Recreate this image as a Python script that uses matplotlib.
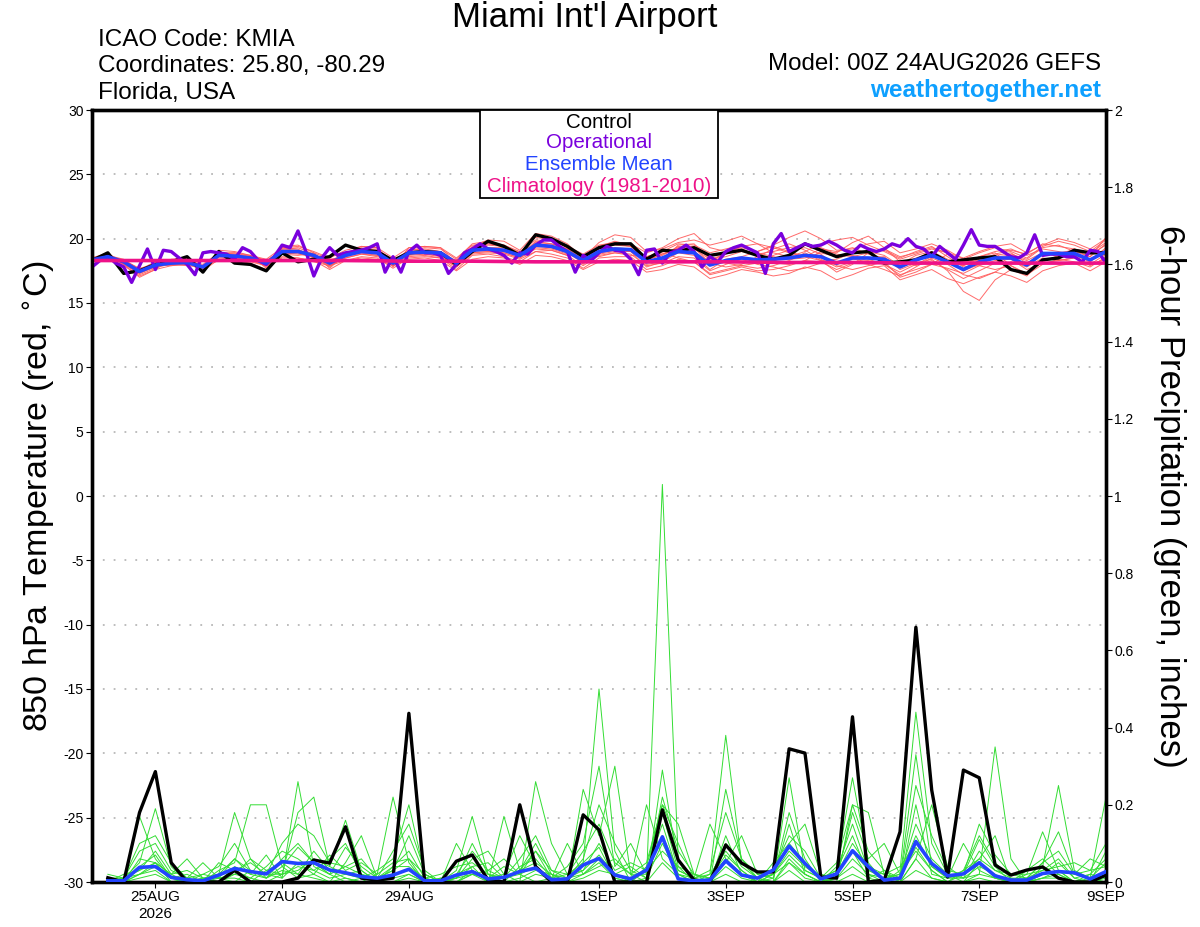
import numpy as np
import matplotlib
matplotlib.use("Agg")
import matplotlib.pyplot as plt
from matplotlib.patches import Rectangle
from matplotlib.ticker import FuncFormatter

plt.rcParams["font.family"] = ["Liberation Sans", "DejaVu Sans"]
plt.rcParams["axes.unicode_minus"] = False

# forecast hours from 00Z 24AUG2026, tick positions / labels
tick_hours = [24, 72, 120, 192, 240, 288, 336, 384]
tick_labels = ["25AUG\n2026", "27AUG", "29AUG", "1SEP", "3SEP", "5SEP", "7SEP", "9SEP"]

# 850 hPa temperature, 6-hourly (0..384 h)
ctrl_temp = [
    18.3, 18.9, 17.3, 17.5, 18.0, 18.2, 18.6, 17.4, 19.0, 18.1, 18.0, 17.5, 18.9,
    18.2, 18.4, 18.6, 19.5, 19.1, 19.0, 18.3, 18.9, 19.0, 18.9, 18.0, 19.0, 19.8,
    19.4, 18.7, 20.3, 20.0, 19.4, 18.6, 19.3, 19.6, 19.6, 18.4, 19.1, 19.0, 19.3,
    18.7, 18.9, 19.1, 18.7, 18.4, 18.7, 19.6, 19.1, 18.6, 18.9, 19.0, 18.1, 18.2,
    18.35, 18.9, 18.2, 18.35, 18.5, 18.6, 17.6, 17.3, 18.35, 18.5, 19.1, 18.9, 18.9,
]
mean_temp = [
    18.35, 18.6, 18.2, 17.45, 17.95, 18.1, 18.15, 17.8, 18.7, 18.65, 18.5, 18.1, 19.0,
    19.0, 18.7, 18.1, 18.7, 19.0, 18.9, 18.1, 18.9, 18.95, 18.9, 18.1, 19.1, 19.2,
    19.1, 18.7, 19.5, 19.4, 19.0, 18.3, 19.0, 19.2, 19.15, 18.2, 18.5, 19.0, 18.9,
    17.95, 18.3, 18.5, 18.35, 18.4, 18.5, 18.7, 18.6, 18.1, 18.5, 18.5, 18.4, 17.8,
    18.35, 18.7, 18.2, 17.6, 18.2, 18.5, 18.5, 17.95, 18.85, 18.85, 18.85, 18.35, 19.0,
]
# operational run, 3-hourly (0..384 h)
op_temp = [
    17.8, 18.3, 18.6, 18.1, 17.8, 16.6, 17.9, 19.2, 17.6, 19.1, 19.0, 18.5, 18.0,
    17.2, 18.9, 19.0, 18.9, 18.8, 18.4, 19.3, 19.0, 18.3, 18.0, 18.6, 19.5, 19.3,
    20.6, 19.0, 17.1, 18.5, 19.3, 18.7, 18.9, 19.0, 19.1, 19.3, 19.6, 17.4, 18.6,
    17.4, 19.0, 19.5, 18.9, 18.9, 18.7, 17.3, 18.0, 18.9, 19.2, 19.6, 19.2, 19.0,
    18.7, 18.1, 18.9, 18.8, 19.5, 19.9, 19.9, 19.4, 19.0, 17.4, 18.7, 18.3, 18.9,
    19.4, 19.1, 19.0, 18.4, 17.2, 19.1, 19.2, 18.1, 18.9, 19.1, 19.5, 19.0, 17.8,
    18.6, 18.2, 19.0, 19.3, 19.5, 19.2, 18.9, 17.3, 19.6, 20.4, 19.0, 19.3, 19.6,
    19.4, 19.5, 19.8, 19.5, 19.1, 18.9, 19.5, 19.2, 19.0, 19.2, 19.6, 19.4, 20.0,
    19.4, 19.2, 18.6, 19.4, 18.9, 18.4, 19.5, 20.7, 19.5, 19.4, 19.4, 19.0, 18.6,
    18.5, 18.9, 20.3, 18.7, 18.8, 18.8, 18.6, 18.6, 18.2, 19.1, 19.0, 18.1,
]
# climatology, daily
clim_temp = [18.3, 18.3, 18.3, 18.3, 18.3, 18.25, 18.25, 18.2, 18.2, 18.2, 18.2,
             18.15, 18.15, 18.1, 18.1, 18.1, 18.1]

member_temp = [
    [18.4, 18.7, 18.0, 17.3, 17.8, 18.2, 18.3, 17.6, 18.9, 18.8, 18.4, 17.9, 19.3,
     19.2, 18.5, 17.8, 18.9, 19.3, 19.0, 17.9, 19.1, 19.3, 19.2, 18.4, 19.6, 19.8,
     19.5, 18.9, 20.1, 19.9, 19.3, 18.0, 19.4, 19.8, 19.5, 18.0, 18.2, 19.5, 19.6,
     18.4, 18.8, 19.2, 18.6, 18.1, 18.0, 18.3, 19.0, 18.9, 19.7, 20.2, 19.3, 18.2,
     17.9, 18.3, 17.6, 16.9, 17.5, 18.1, 18.8, 18.4, 19.3, 19.5, 19.0, 18.6, 19.6],
    [18.2, 18.5, 18.3, 17.6, 18.1, 17.9, 18.0, 17.9, 18.5, 18.4, 18.7, 18.3, 18.8,
     18.7, 18.9, 18.4, 18.5, 18.8, 18.6, 18.3, 18.6, 18.7, 18.5, 17.8, 18.8, 18.9,
     18.8, 18.4, 19.0, 19.1, 18.7, 18.6, 18.6, 18.9, 18.7, 18.6, 18.9, 18.5, 18.2,
     17.3, 17.6, 17.9, 18.1, 18.7, 19.1, 19.3, 18.8, 17.9, 17.6, 17.9, 18.2, 17.0,
     17.4, 18.0, 18.8, 18.0, 18.6, 18.9, 17.9, 17.2, 18.0, 18.4, 18.2, 17.8, 18.6],
    [18.5, 18.8, 18.1, 17.2, 17.7, 18.3, 18.4, 17.7, 18.8, 18.9, 18.6, 17.8, 19.2,
     19.3, 18.8, 17.9, 18.6, 19.2, 19.1, 18.0, 19.0, 19.1, 19.0, 18.2, 19.3, 19.6,
     19.4, 18.6, 19.8, 19.6, 19.2, 18.4, 19.3, 19.5, 19.4, 18.3, 18.4, 19.3, 19.4,
     18.6, 18.1, 17.9, 17.7, 17.9, 18.3, 18.9, 18.3, 17.4, 18.0, 18.9, 19.1, 18.5,
     19.0, 19.4, 18.6, 17.8, 17.9, 17.6, 17.9, 17.3, 18.2, 18.7, 19.2, 18.9, 19.7],
    [18.3, 18.4, 18.2, 17.5, 17.9, 18.0, 18.0, 17.9, 18.6, 18.5, 18.3, 18.2, 18.9,
     18.8, 18.6, 18.3, 18.8, 18.9, 18.7, 18.2, 18.8, 18.8, 18.6, 17.9, 18.9, 19.0,
     18.9, 18.5, 19.3, 19.2, 18.8, 18.5, 18.8, 19.0, 19.0, 18.4, 18.7, 19.4, 19.3,
     18.1, 17.8, 18.0, 18.6, 19.2, 19.6, 19.1, 18.4, 17.8, 18.2, 18.0, 17.6, 17.1,
     17.8, 18.5, 18.0, 17.2, 16.9, 17.4, 18.2, 17.8, 18.5, 18.3, 18.5, 18.0, 18.4],
    [18.4, 18.6, 18.3, 17.7, 18.0, 18.2, 18.2, 17.9, 18.7, 18.6, 18.6, 18.3, 19.1,
     19.1, 18.8, 18.2, 18.7, 19.0, 18.9, 18.2, 18.9, 19.0, 18.9, 18.3, 19.2, 19.3,
     19.2, 18.8, 19.5, 19.3, 18.9, 18.2, 18.9, 19.1, 19.2, 18.6, 19.0, 19.6, 19.5,
     18.9, 19.2, 19.5, 18.9, 18.6, 18.4, 18.5, 18.9, 18.6, 18.7, 18.4, 18.0, 17.4,
     18.0, 18.6, 18.3, 17.9, 18.6, 19.0, 19.2, 18.7, 19.2, 19.0, 18.7, 18.2, 19.2],
    [18.3, 18.5, 17.9, 17.1, 17.6, 17.9, 18.1, 17.5, 18.4, 18.3, 18.1, 17.6, 18.6,
     18.5, 18.3, 17.6, 18.3, 18.6, 18.5, 17.7, 18.5, 18.6, 18.5, 17.6, 18.7, 18.8,
     18.6, 18.2, 19.0, 18.8, 18.5, 17.7, 18.5, 18.6, 18.6, 17.6, 17.9, 18.4, 18.2,
     17.2, 17.5, 17.8, 17.5, 17.6, 17.9, 18.3, 18.2, 17.6, 18.1, 18.5, 18.6, 17.6,
     18.1, 18.4, 17.5, 15.9, 15.2, 16.8, 17.6, 17.1, 18.3, 18.5, 18.6, 17.9, 18.5],
    [18.4, 18.7, 18.4, 17.6, 18.2, 18.3, 18.3, 18.0, 18.9, 18.9, 18.7, 18.4, 19.3,
     19.4, 19.0, 18.5, 19.1, 19.4, 19.3, 18.5, 19.3, 19.4, 19.3, 18.5, 19.5, 19.6,
     19.5, 19.0, 19.9, 19.8, 19.4, 18.8, 19.5, 19.7, 19.6, 18.9, 19.3, 20.0, 20.4,
     19.3, 19.0, 19.3, 19.0, 19.5, 20.1, 20.6, 20.0, 19.1, 19.2, 19.6, 19.8, 18.9,
     19.2, 19.6, 19.1, 18.4, 18.9, 19.3, 19.0, 18.5, 19.4, 19.8, 19.5, 19.0, 19.9],
    [18.3, 18.6, 18.1, 17.4, 17.8, 18.0, 18.1, 17.7, 18.6, 18.5, 18.3, 17.9, 18.8,
     18.9, 18.6, 17.9, 18.5, 18.8, 18.7, 17.9, 18.7, 18.8, 18.7, 17.8, 18.9, 19.0,
     18.9, 18.5, 19.2, 19.1, 18.7, 17.9, 18.7, 18.9, 18.8, 17.9, 18.1, 18.6, 18.5,
     17.5, 18.0, 18.4, 18.0, 17.8, 17.5, 17.7, 18.1, 18.0, 18.4, 18.3, 18.0, 17.2,
     17.6, 18.0, 17.7, 17.3, 17.9, 18.3, 18.4, 17.6, 18.1, 18.3, 18.5, 18.0, 18.8],
    [18.4, 18.7, 18.3, 17.6, 18.0, 18.1, 18.2, 17.9, 18.8, 18.7, 18.5, 18.1, 19.1,
     19.0, 18.6, 18.0, 18.8, 19.1, 19.0, 18.1, 19.0, 19.0, 18.9, 18.0, 19.1, 19.3,
     19.3, 18.9, 19.6, 19.5, 19.1, 18.3, 19.1, 19.3, 19.2, 18.3, 18.8, 19.2, 19.0,
     18.2, 18.9, 19.4, 19.6, 19.3, 18.9, 18.6, 19.2, 19.0, 19.3, 18.8, 18.5, 18.0,
     18.7, 19.0, 18.4, 17.9, 18.4, 18.7, 18.9, 18.1, 18.8, 18.9, 19.1, 18.6, 20.1],
    [18.2, 18.5, 18.1, 17.3, 17.9, 18.1, 18.0, 17.7, 18.6, 18.6, 18.4, 18.0, 18.9,
     18.9, 18.5, 18.0, 18.6, 18.9, 18.8, 18.0, 18.8, 18.9, 18.8, 17.9, 19.0, 19.1,
     19.0, 18.6, 19.4, 19.3, 18.9, 18.1, 18.9, 19.1, 19.0, 17.8, 18.2, 18.9, 18.7,
     17.6, 18.4, 18.6, 19.0, 19.4, 19.0, 18.6, 18.3, 18.4, 18.9, 19.0, 18.7, 17.9,
     18.5, 18.9, 18.2, 17.5, 18.0, 18.6, 18.7, 18.3, 18.9, 18.6, 18.9, 18.3, 19.3],
    [18.5, 18.9, 18.0, 17.0, 17.6, 18.4, 18.5, 17.5, 19.1, 19.0, 18.7, 17.7, 19.4,
     19.5, 18.9, 17.7, 18.8, 19.4, 19.3, 17.8, 19.3, 19.4, 19.3, 18.0, 19.4, 19.9,
     19.8, 19.1, 20.4, 20.2, 19.6, 18.5, 19.7, 20.3, 20.1, 19.0, 19.2, 19.7, 19.9,
     19.5, 19.8, 20.2, 19.6, 18.9, 18.6, 19.0, 19.6, 19.9, 20.1, 19.5, 19.0, 18.4,
     18.8, 19.2, 18.9, 18.5, 19.0, 19.4, 19.6, 18.9, 19.5, 20.0, 19.7, 19.2, 20.0],
    [18.2, 18.4, 18.0, 17.5, 17.8, 18.0, 17.9, 17.8, 18.3, 18.3, 18.2, 17.9, 18.5,
     18.5, 18.2, 17.9, 18.3, 18.5, 18.4, 17.9, 18.4, 18.5, 18.3, 17.5, 18.4, 18.6,
     18.5, 18.0, 18.7, 18.6, 18.3, 17.6, 18.2, 18.4, 18.3, 17.4, 17.6, 18.0, 17.8,
     16.9, 17.2, 17.6, 17.4, 17.1, 17.3, 17.8, 17.5, 16.8, 17.2, 17.7, 17.9, 16.8,
     17.2, 17.6, 16.9, 16.5, 17.0, 17.4, 17.1, 16.6, 17.5, 17.9, 18.1, 17.5, 18.2],
    [18.4, 18.8, 18.2, 17.4, 18.1, 18.2, 18.3, 17.8, 18.8, 18.8, 18.6, 18.2, 19.2,
     19.1, 18.7, 18.1, 18.9, 19.2, 19.2, 18.3, 19.1, 19.2, 19.0, 18.1, 19.3, 19.5,
     19.4, 18.8, 19.7, 19.6, 19.2, 18.4, 19.2, 19.6, 19.4, 18.5, 18.8, 19.3, 19.2,
     18.4, 18.6, 19.0, 18.8, 19.0, 19.3, 19.5, 19.3, 18.8, 18.6, 18.9, 19.2, 18.6,
     18.9, 19.3, 18.9, 18.2, 18.3, 18.8, 19.1, 18.8, 19.6, 19.4, 19.2, 18.8, 19.5],
]

# 6-hour precipitation (inches), ending at 6..384 h
ctrl_precip = [
    0.011, 0.0, 0.18, 0.286, 0.05, 0.0, 0.0, 0.0, 0.03, 0.0, 0.0, 0.0, 0.01, 0.057, 0.049, 0.143,
    0.01, 0.005, 0.01, 0.437, 0.0, 0.0, 0.054, 0.07, 0.005, 0.0, 0.2, 0.04, 0.0, 0.0, 0.174, 0.135,
    0.0, 0.0, 0.0, 0.187, 0.057, 0.005, 0.0, 0.096, 0.049, 0.026, 0.026, 0.345, 0.334, 0.013, 0.01, 0.428,
    0.0, 0.005, 0.13, 0.66, 0.238, 0.013, 0.29, 0.27, 0.044, 0.018, 0.031, 0.039, 0.01, 0.0, 0.0, 0.018,
]
mean_precip = [
    0.003, 0.003, 0.038, 0.040, 0.012, 0.006, 0.003, 0.018, 0.035, 0.027, 0.021, 0.053, 0.048, 0.05, 0.031, 0.024,
    0.014, 0.01, 0.018, 0.033, 0.003, 0.003, 0.018, 0.027, 0.008, 0.012, 0.027, 0.036, 0.006, 0.008, 0.044, 0.061,
    0.018, 0.008, 0.031, 0.117, 0.008, 0.003, 0.005, 0.055, 0.018, 0.01, 0.031, 0.093, 0.048, 0.008, 0.021, 0.081,
    0.04, 0.005, 0.01, 0.105, 0.048, 0.016, 0.021, 0.05, 0.016, 0.005, 0.005, 0.022, 0.027, 0.024, 0.008, 0.027,
]
member_precip = [
    [0.00, 0.01, 0.05, 0.19, 0.04, 0.00, 0.01, 0.02, 0.18, 0.06, 0.01, 0.03, 0.02, 0.08, 0.03, 0.01,
     0.00, 0.02, 0.22, 0.05, 0.00, 0.00, 0.03, 0.17, 0.02, 0.00, 0.04, 0.06, 0.01, 0.00, 0.05, 0.50,
     0.08, 0.00, 0.03, 0.15, 0.02, 0.00, 0.01, 0.07, 0.03, 0.00, 0.02, 0.08, 0.04, 0.01, 0.03, 0.12,
     0.02, 0.00, 0.01, 0.09, 0.03, 0.00, 0.02, 0.11, 0.04, 0.00, 0.00, 0.02, 0.05, 0.01, 0.00, 0.03],
    [0.01, 0.00, 0.17, 0.06, 0.01, 0.00, 0.00, 0.03, 0.05, 0.20, 0.20, 0.04, 0.01, 0.02, 0.00, 0.05,
     0.12, 0.01, 0.03, 0.06, 0.00, 0.01, 0.00, 0.02, 0.01, 0.04, 0.02, 0.00, 0.01, 0.10, 0.02, 0.06,
     0.02, 0.04, 0.01, 1.03, 0.06, 0.00, 0.02, 0.38, 0.05, 0.01, 0.00, 0.06, 0.02, 0.00, 0.04, 0.27,
     0.05, 0.00, 0.03, 0.44, 0.10, 0.02, 0.00, 0.05, 0.01, 0.00, 0.03, 0.06, 0.02, 0.00, 0.01, 0.05],
    [0.00, 0.02, 0.03, 0.08, 0.02, 0.06, 0.01, 0.00, 0.04, 0.02, 0.07, 0.01, 0.26, 0.04, 0.02, 0.00,
     0.01, 0.03, 0.06, 0.20, 0.02, 0.00, 0.01, 0.04, 0.00, 0.17, 0.03, 0.10, 0.02, 0.00, 0.24, 0.12,
     0.30, 0.02, 0.00, 0.29, 0.04, 0.00, 0.01, 0.05, 0.12, 0.02, 0.01, 0.18, 0.06, 0.00, 0.02, 0.08,
     0.01, 0.03, 0.00, 0.06, 0.20, 0.04, 0.01, 0.02, 0.35, 0.06, 0.00, 0.01, 0.03, 0.02, 0.01, 0.00],
    [0.01, 0.01, 0.08, 0.10, 0.03, 0.01, 0.05, 0.01, 0.00, 0.03, 0.02, 0.02, 0.18, 0.22, 0.04, 0.16,
     0.03, 0.00, 0.00, 0.02, 0.00, 0.01, 0.01, 0.06, 0.08, 0.02, 0.00, 0.26, 0.10, 0.02, 0.05, 0.09,
     0.01, 0.00, 0.04, 0.20, 0.15, 0.02, 0.00, 0.24, 0.06, 0.01, 0.00, 0.27, 0.03, 0.01, 0.00, 0.20,
     0.18, 0.02, 0.01, 0.33, 0.04, 0.01, 0.02, 0.06, 0.12, 0.00, 0.02, 0.13, 0.03, 0.00, 0.00, 0.08],
    [0.00, 0.00, 0.04, 0.07, 0.01, 0.02, 0.00, 0.05, 0.03, 0.01, 0.04, 0.08, 0.06, 0.03, 0.06, 0.10,
     0.02, 0.01, 0.04, 0.08, 0.01, 0.00, 0.10, 0.03, 0.01, 0.02, 0.12, 0.04, 0.01, 0.04, 0.10, 0.30,
     0.04, 0.10, 0.02, 0.12, 0.03, 0.01, 0.15, 0.06, 0.02, 0.00, 0.05, 0.10, 0.15, 0.02, 0.01, 0.18,
     0.06, 0.10, 0.02, 0.08, 0.03, 0.00, 0.03, 0.12, 0.05, 0.01, 0.00, 0.04, 0.25, 0.03, 0.01, 0.22],
    [0.01, 0.00, 0.02, 0.05, 0.00, 0.01, 0.02, 0.01, 0.06, 0.02, 0.01, 0.04, 0.09, 0.05, 0.02, 0.04,
     0.02, 0.00, 0.02, 0.03, 0.01, 0.00, 0.01, 0.10, 0.02, 0.01, 0.03, 0.05, 0.02, 0.01, 0.03, 0.07,
     0.02, 0.01, 0.20, 0.06, 0.02, 0.01, 0.02, 0.08, 0.03, 0.00, 0.02, 0.05, 0.02, 0.00, 0.01, 0.06,
     0.02, 0.01, 0.02, 0.12, 0.04, 0.01, 0.01, 0.04, 0.02, 0.00, 0.01, 0.05, 0.13, 0.02, 0.06, 0.04],
    [0.00, 0.01, 0.02, 0.04, 0.01, 0.00, 0.00, 0.02, 0.03, 0.05, 0.02, 0.01, 0.05, 0.02, 0.07, 0.03,
     0.05, 0.02, 0.05, 0.06, 0.02, 0.00, 0.00, 0.02, 0.03, 0.06, 0.02, 0.04, 0.00, 0.01, 0.02, 0.04,
     0.06, 0.02, 0.02, 0.18, 0.03, 0.01, 0.00, 0.12, 0.02, 0.00, 0.01, 0.15, 0.02, 0.00, 0.02, 0.10,
     0.04, 0.02, 0.00, 0.20, 0.02, 0.01, 0.10, 0.03, 0.01, 0.00, 0.00, 0.02, 0.03, 0.00, 0.02, 0.01],
    [0.00, 0.00, 0.02, 0.03, 0.00, 0.00, 0.01, 0.00, 0.02, 0.01, 0.00, 0.02, 0.04, 0.03, 0.01, 0.02,
     0.01, 0.00, 0.01, 0.02, 0.00, 0.00, 0.00, 0.03, 0.00, 0.00, 0.01, 0.03, 0.02, 0.00, 0.02, 0.05,
     0.01, 0.00, 0.01, 0.10, 0.02, 0.00, 0.00, 0.04, 0.01, 0.00, 0.00, 0.05, 0.01, 0.00, 0.01, 0.04,
     0.01, 0.00, 0.00, 0.06, 0.01, 0.00, 0.00, 0.02, 0.01, 0.00, 0.00, 0.01, 0.02, 0.00, 0.00, 0.02],
    [0.00, 0.01, 0.03, 0.05, 0.02, 0.00, 0.02, 0.04, 0.10, 0.03, 0.01, 0.06, 0.10, 0.05, 0.02, 0.09,
     0.04, 0.01, 0.03, 0.12, 0.02, 0.00, 0.02, 0.04, 0.05, 0.01, 0.02, 0.08, 0.03, 0.01, 0.06, 0.20,
     0.10, 0.03, 0.01, 0.22, 0.08, 0.02, 0.01, 0.10, 0.04, 0.01, 0.02, 0.07, 0.03, 0.01, 0.03, 0.15,
     0.03, 0.01, 0.02, 0.15, 0.06, 0.02, 0.01, 0.08, 0.03, 0.01, 0.01, 0.03, 0.06, 0.01, 0.02, 0.06],
    [0.01, 0.00, 0.01, 0.02, 0.00, 0.00, 0.00, 0.01, 0.01, 0.00, 0.03, 0.05, 0.02, 0.01, 0.00, 0.01,
     0.00, 0.00, 0.00, 0.01, 0.00, 0.00, 0.01, 0.02, 0.00, 0.00, 0.00, 0.02, 0.01, 0.00, 0.01, 0.03,
     0.02, 0.00, 0.00, 0.05, 0.01, 0.00, 0.00, 0.02, 0.00, 0.00, 0.00, 0.03, 0.00, 0.00, 0.00, 0.02,
     0.00, 0.00, 0.00, 0.03, 0.01, 0.00, 0.00, 0.01, 0.00, 0.00, 0.00, 0.01, 0.01, 0.00, 0.00, 0.01],
    [0.02, 0.01, 0.10, 0.12, 0.05, 0.01, 0.00, 0.02, 0.06, 0.03, 0.02, 0.10, 0.15, 0.12, 0.05, 0.04,
     0.06, 0.01, 0.08, 0.15, 0.03, 0.00, 0.02, 0.08, 0.03, 0.01, 0.06, 0.12, 0.03, 0.02, 0.08, 0.15,
     0.05, 0.02, 0.05, 0.20, 0.10, 0.01, 0.03, 0.18, 0.06, 0.02, 0.03, 0.12, 0.08, 0.01, 0.05, 0.20,
     0.08, 0.03, 0.01, 0.25, 0.12, 0.03, 0.02, 0.15, 0.07, 0.02, 0.01, 0.05, 0.08, 0.02, 0.03, 0.10],
    [0.00, 0.00, 0.06, 0.05, 0.02, 0.03, 0.01, 0.01, 0.02, 0.06, 0.03, 0.02, 0.03, 0.06, 0.04, 0.02,
     0.03, 0.00, 0.04, 0.04, 0.01, 0.02, 0.04, 0.05, 0.02, 0.01, 0.03, 0.08, 0.01, 0.02, 0.03, 0.10,
     0.03, 0.05, 0.03, 0.08, 0.04, 0.02, 0.01, 0.06, 0.02, 0.01, 0.02, 0.10, 0.05, 0.01, 0.02, 0.08,
     0.03, 0.02, 0.04, 0.10, 0.05, 0.01, 0.03, 0.06, 0.03, 0.02, 0.02, 0.03, 0.04, 0.05, 0.03, 0.04],
]

W, H = 1200, 927


def fx(px):
    return px / W


def fy(py):
    return 1 - py / H


fig = plt.figure(figsize=(12, 9.27), dpi=100)
ax = fig.add_axes([fx(92), fy(882), fx(1106) - fx(92), fy(110) - fy(882)])
ax2 = ax.twinx()

t6 = np.arange(len(ctrl_temp)) * 6
t3 = np.arange(len(op_temp)) * 3
t24 = np.arange(len(clim_temp)) * 24
p6 = (np.arange(len(ctrl_precip)) + 1) * 6

# temperature (left axis)
for m in member_temp:
    ax.plot(np.arange(len(m)) * 6, m, color="#ff5a5a", lw=0.7, alpha=0.9, zorder=2)
ax.plot(t6, ctrl_temp, color="black", lw=2.4, zorder=4)
ax.plot(t3, op_temp, color="#7a00dd", lw=2.4, zorder=5)
ax.plot(t6, mean_temp, color="#2244ff", lw=2.6, zorder=6)
ax.plot(t24, clim_temp, color="#ee1188", lw=2.6, zorder=7)

# precipitation (right axis)
for m in member_precip:
    ax2.plot((np.arange(len(m)) + 1) * 6, m, color="#33dd33", lw=0.7, zorder=2)
ax2.plot(p6, ctrl_precip, color="black", lw=2.4, zorder=4)
ax2.plot(p6, mean_precip, color="#2244ff", lw=2.6, zorder=5)

ax.set_xlim(0, 384)
ax.set_ylim(-30, 30)
ax2.set_ylim(0, 2)
ax.set_yticks(np.arange(-30, 31, 5))
ax2.set_yticks(np.arange(0, 2.01, 0.2))
ax2.yaxis.set_major_formatter(FuncFormatter(lambda v, p: "%g" % round(v, 1)))
ax.set_xticks(tick_hours)
ax.set_xticklabels(tick_labels)

for y in np.arange(-25, 30, 5):
    ax.axhline(y, color="#b8b8b8", lw=1.3, ls=(0, (1, 5)), zorder=1)

ax.tick_params(axis="y", labelsize=10, length=4, width=0.8, pad=2)
ax2.tick_params(axis="y", labelsize=10, length=4, width=0.8, pad=2)
ax.tick_params(axis="x", labelsize=11, length=4, width=0.8, pad=2)
for a in (ax, ax2):
    for s in a.spines.values():
        s.set_linewidth(2.4)

ax.set_ylabel("850 hPa Temperature (red, $^{\\circ}$C)", fontsize=24.5, labelpad=4)
ax2.set_ylabel("6-hour Precipitation (green, inches)", fontsize=25, rotation=-90,
               labelpad=38)

# header text
fig.text(fx(585), fy(18), "Miami Int'l Airport", fontsize=25, ha="center", va="center")
fig.text(fx(98), fy(40), "ICAO Code: KMIA", fontsize=17.5, ha="left", va="center")
fig.text(fx(98), fy(66), "Coordinates: 25.80, -80.29", fontsize=17.5, ha="left", va="center")
fig.text(fx(98), fy(93), "Florida, USA", fontsize=17.5, ha="left", va="center")
fig.text(fx(1101), fy(64), "Model: 00Z 24AUG2026 GEFS", fontsize=17.4, ha="right", va="center")
fig.text(fx(1101), fy(90), "weathertogether.net", fontsize=17.5, ha="right", va="center",
         color="#0ea0ff", fontweight="bold")

# legend box
fig.add_artist(Rectangle((fx(480), fy(198)), fx(718) - fx(480), fy(110) - fy(198),
                         transform=fig.transFigure, facecolor="white", edgecolor="black",
                         lw=1.3, zorder=10))
legend_items = [("Control", "black", 122), ("Operational", "#7a00dd", 143),
                ("Ensemble Mean", "#2244ff", 164), ("Climatology (1981-2010)", "#ee1188", 186)]
for label, col, ypx in legend_items:
    fig.text(fx(599), fy(ypx), label, fontsize=14.8, color=col, ha="center", va="center",
             zorder=11)

fig.savefig("out.png", dpi=100)
